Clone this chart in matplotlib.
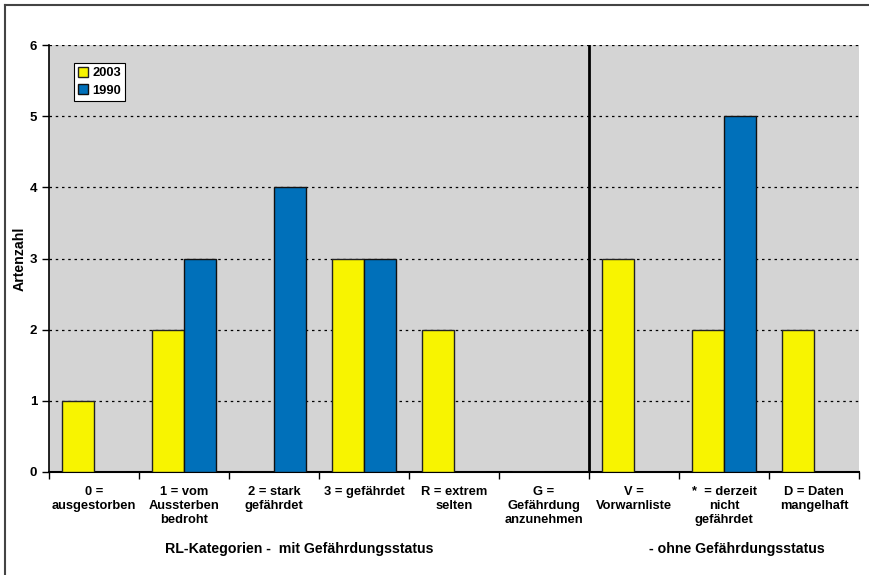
import matplotlib
matplotlib.use("Agg")
import matplotlib.pyplot as plt
import numpy as np
from matplotlib.lines import Line2D

plt.rcParams['font.family'] = ['Liberation Sans', 'DejaVu Sans']

categories = ["0 =\nausgestorben", "1 = vom\nAussterben\nbedroht", "2 = stark\ngefährdet",
              "3 = gefährdet", "R = extrem\nselten", "G =\nGefährdung\nanzunehmen",
              "V =\nVorwarnliste", "*  = derzeit\nnicht\ngefährdet", "D = Daten\nmangelhaft"]
values_2003 = [1, 2, 0, 3, 2, 0, 3, 2, 2]
values_1990 = [0, 3, 4, 3, 0, 0, 0, 5, 0]
series_labels = ["2003", "1990"]
yticks = [0, 1, 2, 3, 4, 5, 6]
group_labels = ["RL-Kategorien -  mit Gefährdungsstatus", "- ohne Gefährdungsstatus"]

W, H = 869, 575
fig = plt.figure(figsize=(W / 100, H / 100), dpi=100)
ax = fig.add_axes([49 / W, 1 - 472 / H, (859 - 49) / W, (472 - 45) / H])

ax.set_facecolor('#D4D4D4')
x = np.arange(len(categories))
bw = 0.36
ax.bar(x - bw / 2, values_2003, bw, color='#F8F400', edgecolor='#222222', linewidth=1,
       label=series_labels[0], zorder=3)
ax.bar(x + bw / 2, values_1990, bw, color='#0070BA', edgecolor='#111111', linewidth=1,
       label=series_labels[1], zorder=3)

ax.set_xlim(-0.5, len(categories) - 0.5)
ax.set_ylim(0, 6)
ax.set_yticks(yticks)
ax.set_yticklabels([str(t) for t in yticks], fontweight='bold', fontsize=9.5)
for t in yticks[1:]:
    ax.axhline(t, color='black', linestyle=(0, (2, 3)), linewidth=0.9, zorder=1)

ax.set_xticks(np.arange(-0.5, len(categories), 1.0))
ax.set_xticklabels([])
ax.set_xticks(x, minor=True)
ax.set_xticklabels(categories, minor=True, fontweight='bold', fontsize=9.3, va='top',
                   linespacing=1.25)
ax.tick_params(axis='x', which='minor', length=0, pad=10)
ax.tick_params(axis='x', which='major', length=5, width=1, direction='out')
ax.tick_params(axis='y', length=5, width=1, direction='out', pad=3.5)

ax.axvline(5.5, color='black', linewidth=2, zorder=4)

for s in ['top', 'right']:
    ax.spines[s].set_visible(False)
ax.spines['left'].set_linewidth(1.2)
ax.spines['bottom'].set_linewidth(1.5)

ax.set_ylabel("Artenzahl", fontweight='bold', fontsize=10.2)
ax.yaxis.set_label_coords((27 - 49) / (859 - 49), 0.5)

leg = ax.legend(loc='upper left', bbox_to_anchor=((74 - 49) / (859 - 49), 1 - (63 - 45) / (472 - 45)),
                frameon=True, fancybox=False, prop={'weight': 'bold', 'size': 9.3},
                handlelength=0.8, handleheight=0.8, handletextpad=0.3, borderpad=0.3,
                labelspacing=0.4, borderaxespad=0)
leg.get_frame().set_edgecolor('black')
leg.get_frame().set_linewidth(0.8)
leg.get_frame().set_facecolor('white')
leg.get_frame().set_alpha(1)

fig.text(299 / W, 1 - 549 / H, group_labels[0], ha='center', va='center',
         fontweight='bold', fontsize=10.2)
fig.text(737 / W, 1 - 549 / H, group_labels[1], ha='center', va='center',
         fontweight='bold', fontsize=10.2)

fig.add_artist(Line2D([5 / W, 5 / W], [0, 1 - 5 / H], color='#444444', linewidth=1.5,
                      transform=fig.transFigure))
fig.add_artist(Line2D([5 / W, 1], [1 - 5 / H, 1 - 5 / H], color='#444444', linewidth=1.5,
                      transform=fig.transFigure))

fig.savefig("out.png", dpi=100)
